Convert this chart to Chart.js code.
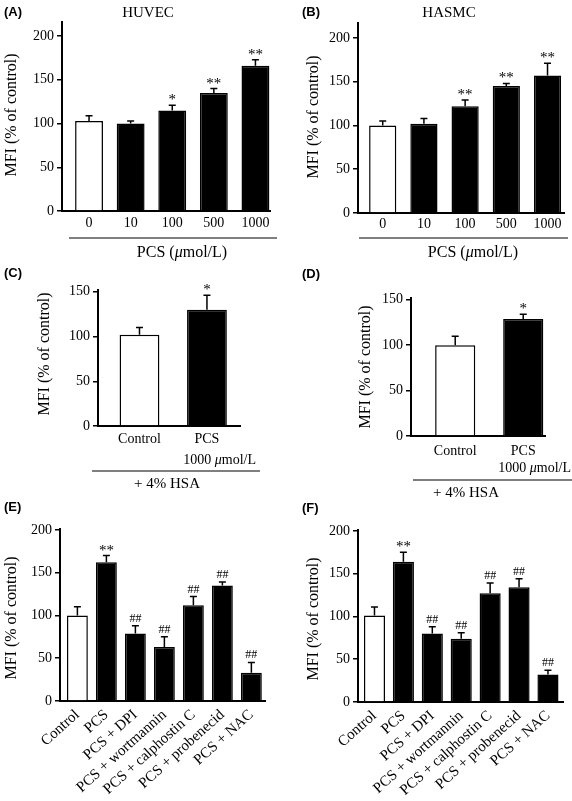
<!DOCTYPE html>
<html>
<head>
<meta charset="utf-8">
<script src="https://cdn.jsdelivr.net/npm/chart.js@4.4.0/dist/chart.umd.min.js"></script>
<style>
  body { margin: 0; background: #fff; width: 572px; height: 801px; position: relative; overflow: hidden; }
  canvas { position: absolute; }
</style>
</head>
<body>
<canvas id="cA" width="286" height="268" style="left:0;top:0"></canvas>
<canvas id="cB" width="286" height="268" style="left:286px;top:0"></canvas>
<canvas id="cC" width="286" height="232" style="left:0;top:268px"></canvas>
<canvas id="cD" width="286" height="232" style="left:286px;top:268px"></canvas>
<canvas id="cE" width="286" height="301" style="left:0;top:500px"></canvas>
<canvas id="cF" width="286" height="301" style="left:286px;top:500px"></canvas>
<script>
// values (mean and SEM, % of control)
const doseLabels = ['0', '10', '100', '500', '1000'];
const huvecMean = [103, 100, 115, 135, 166];
const huvecSem = [6, 3, 6, 5, 7];
const huvecSig = ['', '', '*', '**', '**'];
const hasmcMean = [100, 102, 122, 145, 157];
const hasmcSem = [5, 6, 7, 3, 14];
const hasmcSig = ['', '', '**', '**', '**'];

const hsaLabels = ['Control', 'PCS'];
const huvecHsaMean = [102, 130];
const huvecHsaSem = [8, 16];
const hasmcHsaMean = [100, 129];
const hasmcHsaSem = [10, 5];
const hsaSig = ['', '*'];

const inhibLabels = ['Control', 'PCS', 'PCS + DPI', 'PCS + wortmannin', 'PCS + calphostin C', 'PCS + probenecid', 'PCS + NAC'];
const huvecInhMean = [100, 162, 79, 63, 112, 135, 33];
const huvecInhSem = [10, 8, 9, 12, 10, 4, 12];
const hasmcInhMean = [101, 164, 80, 74, 127, 134, 32];
const hasmcInhSem = [10, 11, 8, 7, 12, 10, 5];
const inhibSig = ['', '**', '##', '##', '##', '##', '##'];

const ticks200 = [0, 50, 100, 150, 200];
const ticks150 = [0, 50, 100, 150];

const serif = '"Liberation Serif", "Times New Roman", serif';
const pcsUnit = [['PCS (', 0], ['\u03bc', 1], ['mol/L)', 0]];
const subUnit = [['1000 ', 0], ['\u03bc', 1], ['mol/L', 0]];

// layout in page pixels
const panels = [
  { id: 'cA', box: [0, 0, 286, 268], area: [62, 22, 270, 211], yMax: 216, yTicks: ticks200,
    xMin: -0.65, xMax: 4.35, barPct: 0.67, rot: 0, tickSize: 14, tickPad: 4,
    labels: doseLabels, mean: huvecMean, sem: huvecSem, sig: huvecSig,
    letter: ['(A)', 4, 12], title: ['HUVEC', 148, 13], ylab: [12, 115],
    bracket: [69, 277, 238], group: [pcsUnit, 182, 253, 16] },
  { id: 'cB', box: [286, 0, 286, 268], area: [358, 23, 564, 213], yMax: 217, yTicks: ticks200,
    xMin: -0.6, xMax: 4.4, barPct: 0.66, rot: 0, tickSize: 14, tickPad: 3,
    labels: doseLabels, mean: hasmcMean, sem: hasmcSem, sig: hasmcSig,
    letter: ['(B)', 302, 12], title: ['HASMC', 449, 13], ylab: [314, 117],
    bracket: [359, 568, 238], group: [pcsUnit, 473, 253, 16] },
  { id: 'cC', box: [0, 268, 286, 232], area: [98, 290, 240, 426], yMax: 152, yTicks: ticks150,
    xMin: -0.615, xMax: 1.49, barPct: 0.59, rot: 0, tickSize: 14, tickPad: 5,
    labels: hsaLabels, mean: huvecHsaMean, sem: huvecHsaSem, sig: hsaSig,
    letter: ['(C)', 4, 273], ylab: [45, 354],
    sub: [subUnit, 256, 460], bracket: [92, 260, 471], group: [[['+ 4% HSA', 0]], 167, 484, 15] },
  { id: 'cD', box: [286, 268, 286, 232], area: [411, 298, 545, 436], yMax: 152, yTicks: ticks150,
    xMin: -0.65, xMax: 1.32, barPct: 0.59, rot: 0, tickSize: 14, tickPad: 7,
    labels: hsaLabels, mean: hasmcHsaMean, sem: hasmcHsaSem, sig: hsaSig,
    letter: ['(D)', 302, 274], ylab: [366, 367],
    sub: [subUnit, 571, 468], bracket: [413, 572, 480], group: [[['+ 4% HSA', 0]], 466, 493, 15] },
  { id: 'cE', box: [0, 500, 286, 301], area: [60, 529, 265, 701], yMax: 201, yTicks: ticks200,
    xMin: -0.6, xMax: 6.47, barPct: 0.72, rot: 42, tickSize: 15, tickPad: 5,
    labels: inhibLabels, mean: huvecInhMean, sem: huvecInhSem, sig: inhibSig,
    letter: ['(E)', 4, 507], ylab: [12, 618] },
  { id: 'cF', box: [286, 500, 286, 301], area: [358, 530, 563, 702], yMax: 201, yTicks: ticks200,
    xMin: -0.57, xMax: 6.52, barPct: 0.73, rot: 42, tickSize: 15, tickPad: 5,
    labels: inhibLabels, mean: hasmcInhMean, sem: hasmcInhSem, sig: inhibSig,
    letter: ['(F)', 302, 508], ylab: [314, 619] }
];

function runs(ctx, parts, x, y, size, align) {
  let total = 0;
  parts.forEach(p => {
    ctx.font = (p[1] ? 'italic ' : '') + size + 'px ' + serif;
    total += ctx.measureText(p[0]).width;
  });
  let cx = align === 'right' ? x - total : x - total / 2;
  ctx.textAlign = 'left';
  parts.forEach(p => {
    ctx.font = (p[1] ? 'italic ' : '') + size + 'px ' + serif;
    ctx.fillText(p[0], cx, y);
    cx += ctx.measureText(p[0]).width;
  });
}

const extras = {
  id: 'extras',
  afterDatasetsDraw(chart) {
    const p = chart.options.plugins.extras;
    const ctx = chart.ctx, xs = chart.scales.x, ys = chart.scales.y;
    const ox = p.box[0], oy = p.box[1];
    ctx.save();
    ctx.strokeStyle = '#000';
    ctx.fillStyle = '#000';
    ctx.lineWidth = 1.5;
    p.mean.forEach((m, i) => {
      const x = xs.getPixelForValue(i);
      const y0 = ys.getPixelForValue(m);
      const y1 = ys.getPixelForValue(m + p.sem[i]);
      ctx.beginPath();
      ctx.moveTo(x, y0); ctx.lineTo(x, y1);
      ctx.moveTo(x - 3.5, y1); ctx.lineTo(x + 3.5, y1);
      ctx.stroke();
      if (p.sig[i]) {
        const hash = p.sig[i].startsWith('#');
        ctx.font = (hash ? '12px ' : '15px ') + serif;
        ctx.textAlign = 'center';
        ctx.textBaseline = 'alphabetic';
        ctx.fillText(p.sig[i], x, y1 - (hash ? 4 : 1));
      }
    });

    ctx.textBaseline = 'middle';
    ctx.font = 'bold 13px "Liberation Sans", Arial, sans-serif';
    ctx.textAlign = 'left';
    ctx.fillText(p.letter[0], p.letter[1] - ox, p.letter[2] - oy);

    if (p.title) {
      ctx.font = '15px ' + serif;
      ctx.textAlign = 'center';
      ctx.fillText(p.title[0], p.title[1] - ox, p.title[2] - oy);
    }

    ctx.save();
    ctx.translate(p.ylab[0] - ox, p.ylab[1] - oy);
    ctx.rotate(-Math.PI / 2);
    ctx.font = '16px ' + serif;
    ctx.textAlign = 'center';
    ctx.fillText('MFI (% of control)', 0, 0);
    ctx.restore();

    if (p.sub) runs(ctx, p.sub[0], p.sub[1] - ox, p.sub[2] - oy, 14, 'right');
    if (p.bracket) {
      ctx.lineWidth = 1.2;
      ctx.beginPath();
      ctx.moveTo(p.bracket[0] - ox, p.bracket[2] - oy);
      ctx.lineTo(p.bracket[1] - ox, p.bracket[2] - oy);
      ctx.stroke();
    }
    if (p.group) runs(ctx, p.group[0], p.group[1] - ox, p.group[2] - oy, p.group[3], 'center');
    ctx.restore();
  }
};

panels.forEach(p => {
  const [bx, by, bw, bh] = p.box;
  const [l, t, r, b] = p.area;
  new Chart(p.id, {
    type: 'bar',
    data: {
      datasets: [{
        data: p.mean.map((v, i) => ({ x: i, y: v })),
        backgroundColor: p.mean.map((v, i) => i === 0 ? '#fff' : '#000'),
        borderColor: '#000',
        borderWidth: 1.5,
        categoryPercentage: 1,
        barPercentage: p.barPct
      }]
    },
    options: {
      responsive: false,
      animation: false,
      devicePixelRatio: 1,
      layout: { padding: { left: 0, top: t - by, right: bx + bw - r, bottom: 0 } },
      plugins: {
        legend: { display: false },
        tooltip: { enabled: false },
        extras: p
      },
      scales: {
        x: {
          type: 'linear',
          offset: false,
          min: p.xMin,
          max: p.xMax,
          afterFit: s => { s.height = by + bh - b; },
          afterBuildTicks: s => { s.ticks = p.labels.map((c, i) => ({ value: i })); },
          grid: { display: false, drawTicks: false, tickLength: 0 },
          border: { display: true, color: '#000', width: 2 },
          ticks: {
            autoSkip: false,
            minRotation: p.rot,
            maxRotation: p.rot,
            padding: p.tickPad,
            color: '#000',
            font: { family: serif, size: p.tickSize },
            callback: v => p.labels[v]
          }
        },
        y: {
          min: 0,
          max: p.yMax,
          afterFit: s => { s.width = l - bx; },
          afterBuildTicks: s => { s.ticks = p.yTicks.map(v => ({ value: v })); },
          grid: { drawOnChartArea: false, drawTicks: true, tickLength: 5, color: '#000', lineWidth: 1.5 },
          border: { display: true, color: '#000', width: 2 },
          ticks: {
            padding: 3,
            color: '#000',
            font: { family: serif, size: 14 }
          }
        }
      }
    },
    plugins: [extras]
  });
});
</script>
</body>
</html>
